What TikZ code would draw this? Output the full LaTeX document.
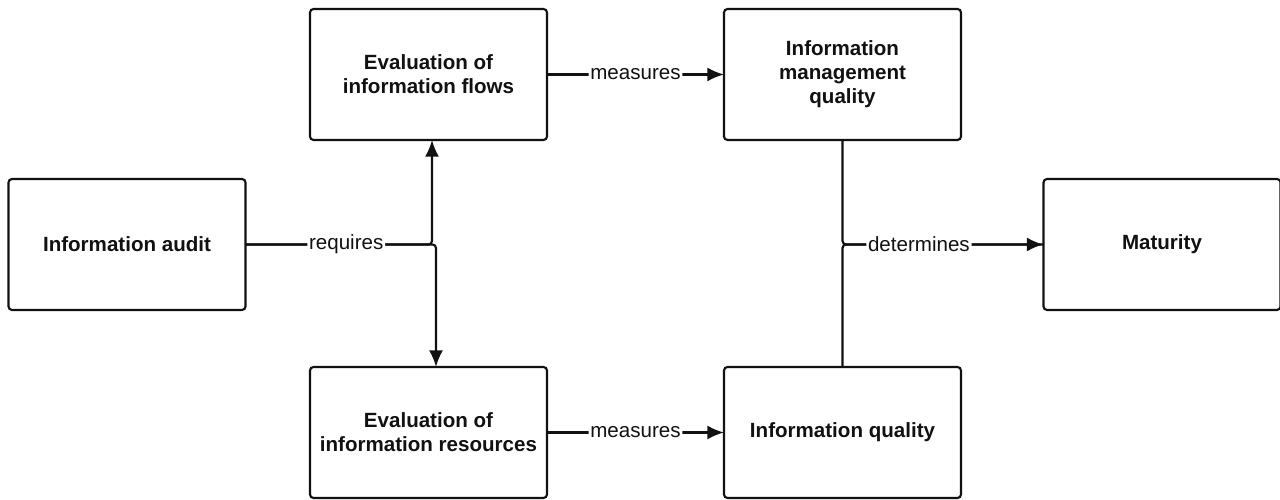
\documentclass[tikz,border=0pt]{standalone}
\usepackage{fontspec}
\setmainfont{Liberation Sans}
\usepackage{tikz}
\usetikzlibrary{arrows.meta, positioning, calc}
\definecolor{auditInk}{HTML}{111111}

\begin{document}
\begin{tikzpicture}[
    box/.style={
        rectangle,
        rounded corners=2pt,
        draw=auditInk,
        fill=white,
        minimum width=4.74cm,
        minimum height=2.62cm,
        align=center,
        font=\fontsize{11.7}{13.6}\selectfont\bfseries,
        text=auditInk,
        line width=1.2pt,
        outer sep=0pt
    },
    arrow/.style={
        -{Latex[length=9.5pt,width=8pt]},
        line width=1.2pt,
        draw=auditInk,
        rounded corners=2pt
    },
    link/.style={
        line width=1.2pt,
        draw=auditInk,
        rounded corners=2pt
    },
    tag/.style={
        fill=white,
        inner sep=1pt,
        font=\fontsize{11.7}{13.6}\selectfont,
        text=auditInk
    }
]
\useasboundingbox (0,0) rectangle (25.6,10);

% Boxes
\node[box] (audit) at (2.54,5.11) {Information audit};
\node[box] (flows) at (8.57,8.51) {Evaluation of\\information flows};
\node[box, below=4.54cm of flows] (resources) {Evaluation of\\information resources};
\node[box, right=3.54cm of flows] (mgmt) {Information\\management\\quality};
\node[box, right=3.54cm of resources] (quality) {Information quality};
\node[box] (maturity) at (23.24,5.11) {Maturity};

% Audit branches
\draw[arrow] (audit.east) -| ([xshift=1.5mm]resources.north);
\draw[arrow] (audit.east) -| node[tag, pos=0.27] {requires} ([xshift=0.7mm]flows.south);

% Measures
\draw[arrow] (flows.east) -- node[tag, midway] {measures} (mgmt.west);
\draw[arrow] (resources.east) -- node[tag, midway] {measures} (quality.west);

% Determines
\draw[link] (quality.north) |- (maturity.west);
\draw[arrow] (mgmt.south) |- node[tag, pos=0.69] {determines} (maturity.west);

\end{tikzpicture}
\end{document}
